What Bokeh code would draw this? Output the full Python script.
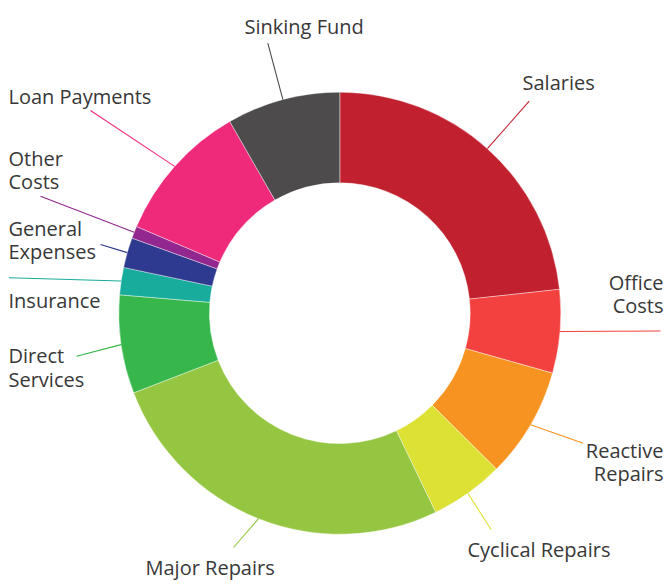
import math
from bokeh.plotting import figure
from bokeh.models import Range1d
from bokeh.embed import file_html
from bokeh.resources import INLINE
from bokeh.core.properties import value

# ---- data ----
categories = ["Salaries", "Office Costs", "Reactive Repairs", "Cyclical Repairs",
              "Major Repairs", "Direct Services", "Insurance", "General Expenses",
              "Other Costs", "Loan Payments", "Sinking Fund"]
shares = [23.3, 6.1, 8.1, 5.4, 26.3, 7.2, 2.0, 2.2, 0.9, 10.3, 8.3]
colors = ["#C1202F", "#F2413E", "#F79421", "#DCE134", "#94C641", "#37B74B",
          "#17AC9B", "#2E3A8F", "#92278F", "#EF2A7B", "#4D4B4C"]
label_lines = [["Salaries"], ["Office", "Costs"], ["Reactive", "Repairs"],
               ["Cyclical Repairs"], ["Major Repairs"], ["Direct", "Services"],
               ["Insurance"], ["General", "Expenses"], ["Other", "Costs"],
               ["Loan Payments"], ["Sinking Fund"]]

# ---- layout (picture pixel coordinates, y downward) ----
W, H = 664, 580
CX, CY = 339.3, 312.7
R_OUT, R_IN = 221.0, 130.4
label_x = [522, 663, 663, 467, 145, 8, 8, 8, 8, 8, 244]
label_align = ["left", "right", "right", "left", "left", "left", "left", "left",
               "left", "left", "left"]
label_base = [89.3, 289.3, 457.3, 556.7, 574.0, 362.7, 307.3, 235.0, 165.0, 103.5, 33.3]
BASE_FIX = -7.5
line_gap = 23.4
leader_end = [(528.7, 100.7), (660.0, 330.5), (582.7, 442.7), (490.7, 529.3),
              (233.0, 547.0), (76.0, 355.7), (8.3, 277.3), (100.0, 244.0),
              (40.0, 195.7), (90.0, 110.0), (267.3, 42.7)]


def fy(y):
    return 588 - y


p = figure(width=W, height=H, x_range=Range1d(0, W), y_range=Range1d(588 - H, 588),
           toolbar_location=None, output_backend="svg", min_border=0)
p.axis.visible = False
p.grid.visible = False
p.outline_line_color = None
p.background_fill_color = "white"
p.border_fill_color = "white"

total = sum(shares)
cum = 0.0
starts, ends, mids = [], [], []
for s in shares:
    a0 = 2 * math.pi * cum / total
    cum += s
    a1 = 2 * math.pi * cum / total
    starts.append(math.pi / 2 - a0)
    ends.append(math.pi / 2 - a1)
    mids.append((a0 + a1) / 2)

p.annular_wedge(x=CX, y=fy(CY), inner_radius=R_IN, outer_radius=R_OUT,
                start_angle=starts, end_angle=ends, direction="clock",
                fill_color=colors, line_color="white", line_width=0.4)

x0s, y0s, x1s, y1s = [], [], [], []
for m, (ex, ey) in zip(mids, leader_end):
    x0s.append(CX + R_OUT * math.sin(m))
    y0s.append(fy(CY) + R_OUT * math.cos(m))
    x1s.append(ex)
    y1s.append(fy(ey))
p.segment(x0=x0s, y0=y0s, x1=x1s, y1=y1s, line_color=colors, line_width=1.1)

tx, ty, tt, ta = [], [], [], []
for lines, x, b, al in zip(label_lines, label_x, label_base, label_align):
    for i, t in enumerate(lines):
        tx.append(x)
        ty.append(fy(b + BASE_FIX + i * line_gap))
        tt.append(t)
        ta.append(al)
for al in ("left", "right"):
    idx = [i for i in range(len(tt)) if ta[i] == al]
    p.text(x=[tx[i] for i in idx], y=[ty[i] for i in idx], text=[tt[i] for i in idx],
           text_align=al, text_baseline="alphabetic",
           text_font=value("Open Sans"), text_font_size="20px", text_color="#383838")

open("out.html", "w").write(file_html(p, INLINE))
